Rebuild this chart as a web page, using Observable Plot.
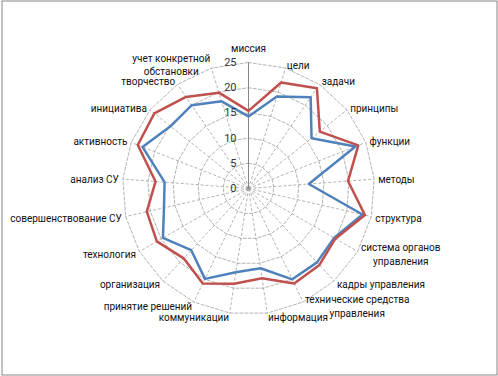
<!DOCTYPE html>
<html><head><meta charset="utf-8">
<script src="https://cdn.jsdelivr.net/npm/d3@7"></script>
<script src="https://cdn.jsdelivr.net/npm/@observablehq/plot@0.6"></script>
<style>body{margin:0;background:#fff}</style>
</head><body><div id="chart"></div>
<script>
const categories = ["миссия","цели","задачи","принципы","функции","методы","структура",
  "система органов\nуправления","кадры управления","технические средства\nуправления",
  "информация","коммуникации","принятие решений","организация","технология",
  "совершенствование СУ","анализ СУ","активность","инициатива","творчество",
  "учет конкретной\nобстановки"];
const seriesRed  = [15.4,22.0,24.1,18.1,23.4,19.8,23.7,19.9,20.7,20.9,18.0,19.1,20.9,18.9,21.0,20.7,18.5,23.6,23.9,22.0,19.9];
const seriesBlue = [14.3,19.1,21.9,16.0,22.8,12.0,23.2,19.6,20.0,20.0,16.0,16.8,19.9,16.7,19.6,17.2,16.7,22.6,19.8,20.0,18.1];
const ticks = [0,5,10,15,20,25];

const W = 498, H = 376, CX = 248, CY = 188, PX = 5.04;
const FONT = "Roboto", FS = 10;
const n = categories.length;
const vmax = d3.max(ticks);
const ang = i => i * 2 * Math.PI / n;
const pt = (v, i) => ({x: v * Math.sin(ang(i)), y: v * Math.cos(ang(i))});

const rings = ticks.filter(t => t > 0).flatMap(t => d3.range(n + 1).map(i => ({t, ...pt(t, i % n)})));
const spokes = d3.range(1, n).map(i => ({i, ...pt(vmax, i)}));
const series = [
  ...seriesBlue.map((v, i) => ({s: "blue", ...pt(v, i)})),
  ...seriesRed.map((v, i) => ({s: "red", ...pt(v, i)}))
];

const ctx = document.createElement("canvas").getContext("2d");
ctx.font = `${FS}px ${FONT}`;
const R = 130 / PX;
const labels = categories.map((c, i) => {
  const s = Math.sin(ang(i)), co = Math.cos(ang(i));
  const side = s > 0.05 ? 1 : s < -0.05 ? -1 : 0;
  const w = d3.max(c.split("\n"), l => ctx.measureText(l).width);
  const rr = side === 0 ? 141 / PX : R;
  return {c, x: (rr * PX * s + side * w / 2) / PX, y: rr * co};
});

const chart = Plot.plot({
  width: W, height: H, margin: 0,
  x: {domain: [-CX / PX, (W - CX) / PX], range: [0, W], axis: null},
  y: {domain: [-(H - CY) / PX, CY / PX], range: [H, 0], axis: null},
  style: {fontFamily: FONT, fontSize: FS + "px", background: "#fff"},
  marks: [
    Plot.line(rings, {x: "x", y: "y", z: "t", stroke: "#9a9a9a", strokeWidth: 0.75, strokeDasharray: "3,2"}),
    Plot.link(spokes, {x1: () => 0, y1: () => 0, x2: "x", y2: "y", stroke: "#9a9a9a", strokeWidth: 0.75, strokeDasharray: "3,2"}),
    Plot.link([vmax], {x1: () => 0, y1: () => 0, x2: () => 0, y2: d => d, stroke: "#868686", strokeWidth: 1}),
    Plot.line(series, {x: "x", y: "y", z: "s", stroke: d => d.s === "red" ? "#C0504D" : "#4F81BD",
      curve: "linear-closed", strokeWidth: 2.5, strokeLinejoin: "round"}),
    Plot.text(ticks, {x: () => 0, y: d => d, text: d => String(d), textAnchor: "end", dx: -12, fill: "#333", fontSize: FS + 1}),
    Plot.text(labels, {x: "x", y: "y", text: "c", textAnchor: "middle", lineAnchor: "middle", fill: "#111", fontSize: FS, lineHeight: 1.35}),
    Plot.frame({stroke: "#868686", insetLeft: 1.5, insetRight: 1.5, insetTop: 0.5, insetBottom: 1.5})
  ]
});
document.getElementById("chart").appendChild(chart);
</script>
</body></html>
